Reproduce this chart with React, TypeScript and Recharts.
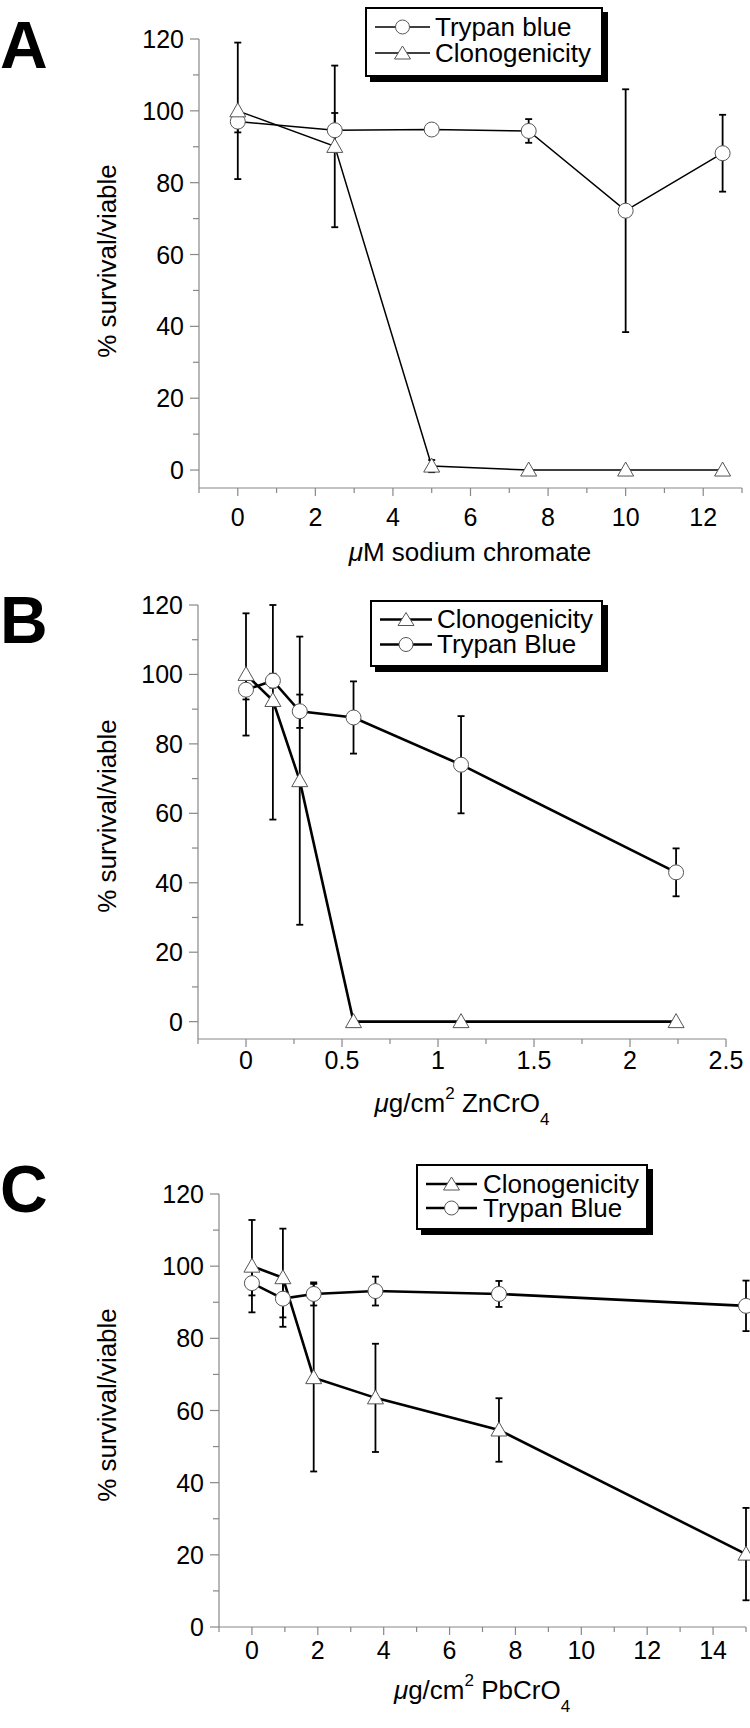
import React from 'react';
import { LineChart, Line, XAxis, YAxis, ErrorBar } from 'recharts';

const FONT = '"Liberation Sans", Arial, Helvetica, sans-serif';
const AXIS = '#888';

// ---- panel A: sodium chromate ----
const doseA = [0, 2.5, 5, 7.5, 10, 12.5];
const trypanA = [97, 94.6, 94.8, 94.4, 72.2, 88.2];
const trypanErrA = [3, 4.8, 1, 3.3, 33.8, 10.7];
const clonoA = [100, 90.1, 1.1, 0, 0, 0];
const clonoErrA = [19, 22.5, 1.7, 0, 0, 0];
const xTicksA = [-1, 0, 1, 2, 3, 4, 5, 6, 7, 8, 9, 10, 11, 12, 13];
const xMajorA = [0, 2, 4, 6, 8, 10, 12];

// ---- panel B: ZnCrO4 ----
const doseB = [0, 0.14, 0.28, 0.56, 1.12, 2.24];
const clonoB = [100, 92.5, 69.4, 0, 0, 0];
const clonoErrB: (number | number[])[] = [17.6, [34.3, 27.5], 41.5, 0, 0, 0];
const trypanB = [95.6, 98.2, 89.4, 87.6, 74, 43];
const trypanErrB = [2.8, 2, 4.8, 10.4, 14, 6.9];
const xTicksB = [-0.25, 0, 0.25, 0.5, 0.75, 1, 1.25, 1.5, 1.75, 2, 2.25, 2.5];
const xMajorB = [0, 0.5, 1, 1.5, 2, 2.5];

// ---- panel C: PbCrO4 ----
const doseC = [0, 0.94, 1.875, 3.75, 7.5, 15];
const clonoC = [100, 96.8, 69.1, 63.5, 54.6, 20.2];
const clonoErrC = [12.8, 13.6, 26, 15, 8.8, 12.8];
const trypanC = [95.3, 91, 92.3, 93.1, 92.3, 89];
const trypanErrC = [3.4, 5.2, 3.2, 4, 3.6, 7];
const xTicksC = [-1, 0, 1, 2, 3, 4, 5, 6, 7, 8, 9, 10, 11, 12, 13, 14, 15];
const xMajorC = [0, 2, 4, 6, 8, 10, 12, 14];

const yTicks = [0, 10, 20, 30, 40, 50, 60, 70, 80, 90, 100, 110, 120];

const buildRows = (
  dose: number[],
  tb: number[],
  tbErr: (number | number[])[],
  cl: number[],
  clErr: (number | number[])[]
) => dose.map((x, i) => ({ x, tb: tb[i], tbErr: tbErr[i], cl: cl[i], clErr: clErr[i] }));

const CircleDot = (p: any) => {
  if (p.cx == null || p.cy == null) return <g key={p.index} />;
  return <circle key={p.index} cx={p.cx} cy={p.cy} r={7.5} fill="#fff" stroke="#555" strokeWidth={1} />;
};

const TriangleDot = (p: any) => {
  if (p.cx == null || p.cy == null) return <g key={p.index} />;
  const { cx, cy } = p;
  return (
    <polygon
      key={p.index}
      points={`${cx},${cy - 8} ${cx - 8},${cy + 6} ${cx + 8},${cy + 6}`}
      fill="#fff"
      stroke="#555"
      strokeWidth={1}
    />
  );
};

const yTick = (p: any) => {
  const v = p.payload.value;
  const major = v % 20 === 0;
  return (
    <g>
      <line x1={p.x - (major ? 9 : 6)} x2={p.x} y1={p.y} y2={p.y} stroke={AXIS} strokeWidth={1.2} />
      {major && (
        <text x={p.x - 15} y={p.y + 9} textAnchor="end" fontSize={25} fontFamily={FONT} fill="#000">
          {v}
        </text>
      )}
    </g>
  );
};

const makeXTick = (majors: number[], gap: number) => (p: any) => {
  const v = p.payload.value;
  const major = majors.includes(v);
  return (
    <g>
      <line x1={p.x} x2={p.x} y1={p.y} y2={p.y + (major ? 8 : 5)} stroke={AXIS} strokeWidth={1.2} />
      {major && (
        <text x={p.x} y={p.y + gap} textAnchor="middle" fontSize={25} fontFamily={FONT} fill="#000">
          {v}
        </text>
      )}
    </g>
  );
};

type PanelProps = {
  top: number;
  height: number;
  plotLeft: number;
  plotRight: number;
  plotTop: number;
  plotBottom: number;
  xDomain: [number, number];
  yDomain: [number, number];
  xTicks: number[];
  xMajor: number[];
  labelGap: number;
  lineWidth: number;
  rows: any[];
  order: ('tb' | 'cl')[];
};

const Panel = (p: PanelProps) => {
  const lines = p.order.map((k) => (
    <Line
      key={k}
      type="linear"
      dataKey={k}
      stroke="#000"
      strokeWidth={p.lineWidth}
      dot={k === 'tb' ? CircleDot : TriangleDot}
      activeDot={false}
      isAnimationActive={false}
    >
      <ErrorBar
        dataKey={k + 'Err'}
        direction="y"
        width={3.5}
        stroke="#000"
        strokeWidth={1.8}
        isAnimationActive={false}
      />
    </Line>
  ));
  return (
    <div style={{ position: 'absolute', left: 0, top: p.top }}>
      <LineChart
        width={750}
        height={p.height}
        data={p.rows}
        margin={{ top: p.plotTop - p.top, right: 750 - p.plotRight, left: 0, bottom: 0 }}
      >
        <XAxis
          type="number"
          dataKey="x"
          domain={p.xDomain}
          ticks={p.xTicks}
          interval={0}
          height={p.top + p.height - p.plotBottom}
          tickSize={0}
          tickMargin={0}
          tickLine={false}
          axisLine={{ stroke: AXIS, strokeWidth: 1.2 }}
          tick={makeXTick(p.xMajor, p.labelGap)}
        />
        <YAxis
          type="number"
          domain={p.yDomain}
          ticks={yTicks}
          interval={0}
          width={p.plotLeft}
          tickSize={0}
          tickMargin={0}
          tickLine={false}
          axisLine={{ stroke: AXIS, strokeWidth: 1.2 }}
          tick={yTick}
        />
        {lines}
      </LineChart>
    </div>
  );
};

type LegendItem = { label: string; shape: 'circle' | 'triangle' };

const LegendBox = (p: {
  left: number;
  top: number;
  width: number;
  height: number;
  rowH: number;
  padTop: number;
  sampleW: number;
  gap: number;
  lw: number;
  items: LegendItem[];
}) => (
  <div
    style={{
      position: 'absolute',
      left: p.left,
      top: p.top,
      width: p.width,
      height: p.height,
      boxSizing: 'border-box',
      border: '2px solid #000',
      boxShadow: '5px 5px 0 0 #000',
      background: '#fff',
      paddingTop: p.padTop,
      paddingLeft: 8,
    }}
  >
    {p.items.map((it) => (
      <div key={it.label} style={{ display: 'flex', alignItems: 'center', height: p.rowH }}>
        <svg width={p.sampleW} height={p.rowH} style={{ display: 'block' }}>
          <line x1={0} x2={p.sampleW} y1={p.rowH / 2} y2={p.rowH / 2} stroke="#000" strokeWidth={p.lw} />
          {it.shape === 'circle' ? (
            <circle cx={p.sampleW / 2} cy={p.rowH / 2} r={7} fill="#fff" stroke="#555" strokeWidth={1} />
          ) : (
            <polygon
              points={`${p.sampleW / 2},${p.rowH / 2 - 7} ${p.sampleW / 2 - 8},${p.rowH / 2 + 6} ${p.sampleW / 2 + 8},${p.rowH / 2 + 6}`}
              fill="#fff"
              stroke="#555"
              strokeWidth={1}
            />
          )}
        </svg>
        <span style={{ marginLeft: p.gap, fontSize: 26, lineHeight: `${p.rowH}px`, fontFamily: FONT, whiteSpace: 'nowrap' }}>
          {it.label}
        </span>
      </div>
    ))}
  </div>
);

const YTitle = ({ cy }: { cy: number }) => (
  <text transform={`translate(116, ${cy}) rotate(-90)`} textAnchor="middle" fontSize={26} fontFamily={FONT}>
    % survival/viable
  </text>
);

const Letter = ({ ch, y }: { ch: string; y: number }) => (
  <text x={0} y={y} fontSize={66} fontWeight="bold" fontFamily={FONT}>
    {ch}
  </text>
);

export default function App() {
  const rowsA = buildRows(doseA, trypanA, trypanErrA, clonoA, clonoErrA);
  const rowsB = buildRows(doseB, trypanB, trypanErrB, clonoB, clonoErrB);
  const rowsC = buildRows(doseC, trypanC, trypanErrC, clonoC, clonoErrC);

  return (
    <div style={{ position: 'absolute', left: 0, top: 0, width: 750, height: 1728, background: '#fff', fontFamily: FONT }}>
      <Panel
        top={0}
        height={580}
        plotLeft={199}
        plotRight={742}
        plotTop={39}
        plotBottom={488}
        xDomain={[-1, 13]}
        yDomain={[-5, 120]}
        xTicks={xTicksA}
        xMajor={xMajorA}
        labelGap={38}
        lineWidth={1.5}
        rows={rowsA}
        order={['tb', 'cl']}
      />
      <Panel
        top={560}
        height={560}
        plotLeft={198}
        plotRight={726}
        plotTop={605}
        plotBottom={1039}
        xDomain={[-0.25, 2.5]}
        yDomain={[-5, 120]}
        xTicks={xTicksB}
        xMajor={xMajorB}
        labelGap={30}
        lineWidth={2.6}
        rows={rowsB}
        order={['tb', 'cl']}
      />
      <Panel
        top={1120}
        height={608}
        plotLeft={219}
        plotRight={746}
        plotTop={1194}
        plotBottom={1627}
        xDomain={[-1, 15]}
        yDomain={[0, 120]}
        xTicks={xTicksC}
        xMajor={xMajorC}
        labelGap={32}
        lineWidth={2.6}
        rows={rowsC}
        order={['tb', 'cl']}
      />

      <svg width={750} height={1728} style={{ position: 'absolute', left: 0, top: 0, pointerEvents: 'none' }}>
        <Letter ch="A" y={68} />
        <Letter ch="B" y={643} />
        <Letter ch="C" y={1212} />

        <YTitle cy={261} />
        <YTitle cy={816} />
        <YTitle cy={1405} />

        <text x={470} y={561} textAnchor="middle" fontSize={26} fontFamily={FONT}>
          <tspan fontStyle="italic">μ</tspan>M sodium chromate
        </text>
        <text x={462} y={1112} textAnchor="middle" fontSize={26} fontFamily={FONT}>
          <tspan fontStyle="italic">μ</tspan>g/cm
          <tspan fontSize={17} dy={-13}>2</tspan>
          <tspan dy={13}> ZnCrO</tspan>
          <tspan fontSize={17} dy={13}>4</tspan>
        </text>
        <text x={482} y={1699} textAnchor="middle" fontSize={26} fontFamily={FONT}>
          <tspan fontStyle="italic">μ</tspan>g/cm
          <tspan fontSize={17} dy={-13}>2</tspan>
          <tspan dy={13}> PbCrO</tspan>
          <tspan fontSize={17} dy={13}>4</tspan>
        </text>
      </svg>

      <LegendBox
        left={365}
        top={7}
        width={238}
        height={70}
        rowH={26}
        padTop={5}
        sampleW={55}
        gap={5}
        lw={1.5}
        items={[
          { label: 'Trypan blue', shape: 'circle' },
          { label: 'Clonogenicity', shape: 'triangle' },
        ]}
      />
      <LegendBox
        left={370}
        top={600}
        width={233}
        height={67}
        rowH={25}
        padTop={5}
        sampleW={52}
        gap={5}
        lw={2.6}
        items={[
          { label: 'Clonogenicity', shape: 'triangle' },
          { label: 'Trypan Blue', shape: 'circle' },
        ]}
      />
      <LegendBox
        left={416}
        top={1164}
        width={232}
        height={66}
        rowH={24}
        padTop={6}
        sampleW={51}
        gap={6}
        lw={2.6}
        items={[
          { label: 'Clonogenicity', shape: 'triangle' },
          { label: 'Trypan Blue', shape: 'circle' },
        ]}
      />
    </div>
  );
}
